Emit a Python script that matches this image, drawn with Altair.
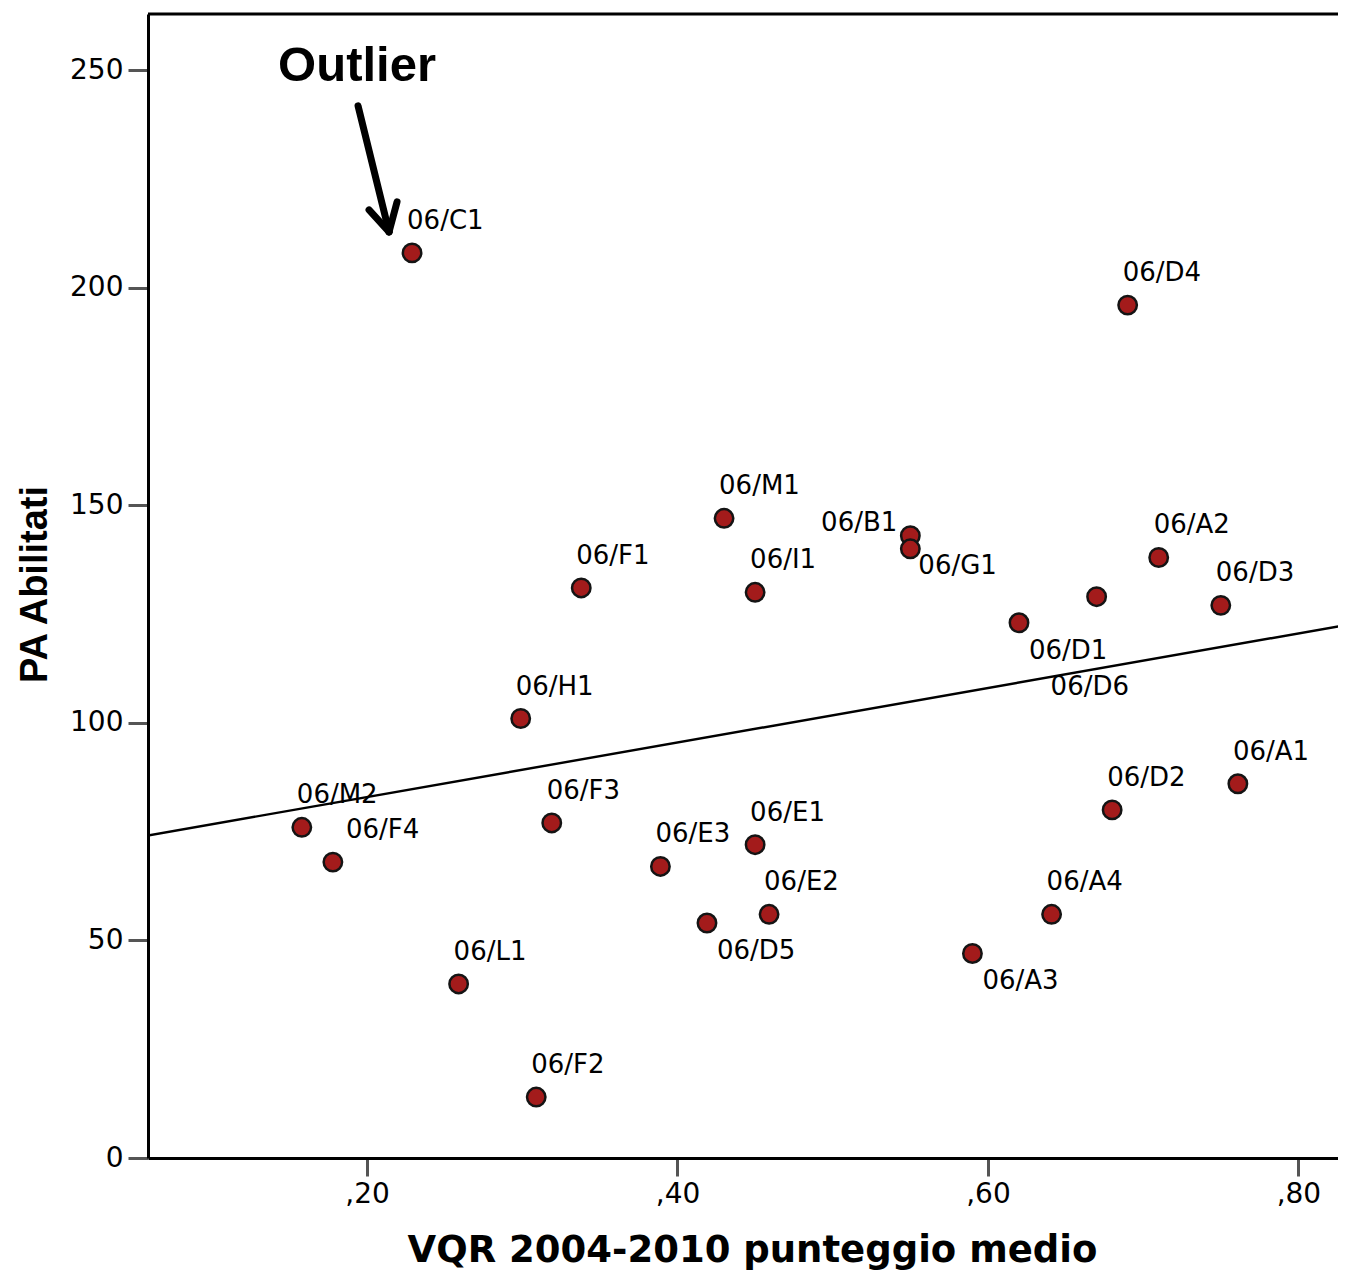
import altair as alt
import pandas as pd

## settori concorsuali area 06
codes = ["06/C1", "06/D4", "06/M1", "06/B1", "06/G1", "06/A2", "06/F1", "06/I1",
         "06/D1", "06/D6", "06/D3", "06/H1", "06/A1", "06/D2", "06/M2", "06/F3",
         "06/E1", "06/F4", "06/E3", "06/D5", "06/E2", "06/A4", "06/A3", "06/L1", "06/F2"]
vqr = [0.229, 0.69, 0.43, 0.55, 0.55, 0.71, 0.338, 0.45,
       0.62, 0.67, 0.75, 0.299, 0.761, 0.68, 0.158, 0.319,
       0.45, 0.178, 0.389, 0.419, 0.459, 0.641, 0.59, 0.259, 0.309]
pa_abilitati = [208, 196, 147, 143, 140, 138, 131, 130,
                123, 129, 127, 101, 86, 80, 76, 77,
                72, 68, 67, 54, 56, 56, 47, 40, 14]
## where the label sits around its point
label_pos = ["above", "above", "above", "upleft", "downright", "above", "above", "above",
             "below", "farbelow", "above", "above", "above", "above", "above", "above",
             "above", "aboveright", "above", "below", "above", "above", "below", "above", "above"]

df = pd.DataFrame({"code": codes, "vqr": vqr, "pa": pa_abilitati, "pos": label_pos})

## label placement -> (dx, dy, align)
placements = {
    "above": (-5, -32, "left"),
    "below": (10, 28, "left"),
    "upleft": (-13, -13, "right"),
    "downright": (8, 17, "left"),
    "aboveright": (13, -32, "left"),
    "farbelow": (-46, 90, "left"),
}

W, H = 1190, 1144
x_scale = alt.Scale(domain=[0.0589, 0.8255], nice=False, zero=False)
y_scale = alt.Scale(domain=[0, 262.9], nice=False)

x_axis = alt.Axis(
    values=[0.2, 0.4, 0.6, 0.8],
    labelExpr="replace(format(datum.value, '.2f'), '0.', ',')",
    tickSize=18, tickWidth=3, tickColor="#555555",
    domainColor="black", domainWidth=3,
    labelFont="DejaVu Sans", labelFontSize=28, labelColor="black", labelPadding=4,
    labelFlush=False, grid=False,
    title="VQR 2004-2010 punteggio medio",
    titleFont="DejaVu Sans", titleFontWeight="bold", titleFontSize=37, titleColor="black",
    titleX=604, titleY=103, titleAlign="center", titleBaseline="alphabetic",
)
y_axis = alt.Axis(
    values=[0, 50, 100, 150, 200, 250],
    tickSize=20, tickWidth=3, tickColor="#555555",
    domainColor="black", domainWidth=3,
    labelFont="DejaVu Sans", labelFontSize=28, labelColor="black", labelPadding=5,
    labelFlush=False, grid=False,
    title="PA Abilitati",
    titleFont="Liberation Sans", titleFontWeight="bold", titleFontSize=38, titleColor="black",
    titleX=-113, titleY=570, titleAngle=270, titleAlign="center", titleBaseline="middle",
)

base = alt.Chart(df)

## linear fit line (drawn across the whole plot)
fit = base.transform_regression("vqr", "pa", extent=[0.0, 0.9]).mark_line(
    color="black", strokeWidth=2.4, clip=True
).encode(
    x=alt.X("vqr:Q", scale=x_scale, axis=x_axis),
    y=alt.Y("pa:Q", scale=y_scale, axis=y_axis),
)

points = base.mark_circle(size=340, color="#a31b1b", stroke="#141414", strokeWidth=2.5, opacity=1).encode(
    x=alt.X("vqr:Q", scale=x_scale),
    y=alt.Y("pa:Q", scale=y_scale),
)

labels = []
for pos, (dx, dy, align) in placements.items():
    labels.append(
        base.transform_filter(alt.datum.pos == pos).mark_text(
            align=align, baseline="middle", dx=dx, dy=dy,
            font="DejaVu Sans", fontSize=26, color="black"
        ).encode(
            x=alt.X("vqr:Q", scale=x_scale),
            y=alt.Y("pa:Q", scale=y_scale),
            text="code",
        )
    )

## outlier annotation, anchored to 06/C1
outlier = base.transform_filter(alt.datum.code == "06/C1")
outlier_text = outlier.mark_text(
    text="Outlier", align="center", baseline="middle", dx=-55, dy=-187,
    font="Liberation Sans", fontWeight="bold", fontSize=49, color="black"
).encode(x=alt.X("vqr:Q", scale=x_scale), y=alt.Y("pa:Q", scale=y_scale))

def arrow_piece(x0, y0, x1, y1):
    return outlier.mark_rule(
        color="black", strokeWidth=7, strokeCap="round",
        xOffset=x0, yOffset=y0, x2Offset=x1, y2Offset=y1
    ).encode(
        x=alt.X("vqr:Q", scale=x_scale), x2="vqr",
        y=alt.Y("pa:Q", scale=y_scale), y2="pa",
    )

shaft = arrow_piece(-54, -147, -23, -21)
wing_l = arrow_piece(-23, -21, -43, -43)
wing_r = arrow_piece(-23, -21, -15, -51)

## top frame line
top_line = alt.Chart(pd.DataFrame({"a": [0]})).mark_rule(color="black", strokeWidth=3).encode(
    x=alt.value(0), x2=alt.value(W), y=alt.value(0)
)

chart = alt.layer(fit, points, *labels, shaft, wing_l, wing_r, outlier_text, top_line).properties(
    width=W, height=H,
    autosize=alt.AutoSizeParams(type="none"),
    padding={"left": 140, "top": 6, "right": 0, "bottom": 113},
    background="white",
).configure_view(stroke=None)

chart.save("out.html", embed_options={"renderer": "svg", "actions": False})
